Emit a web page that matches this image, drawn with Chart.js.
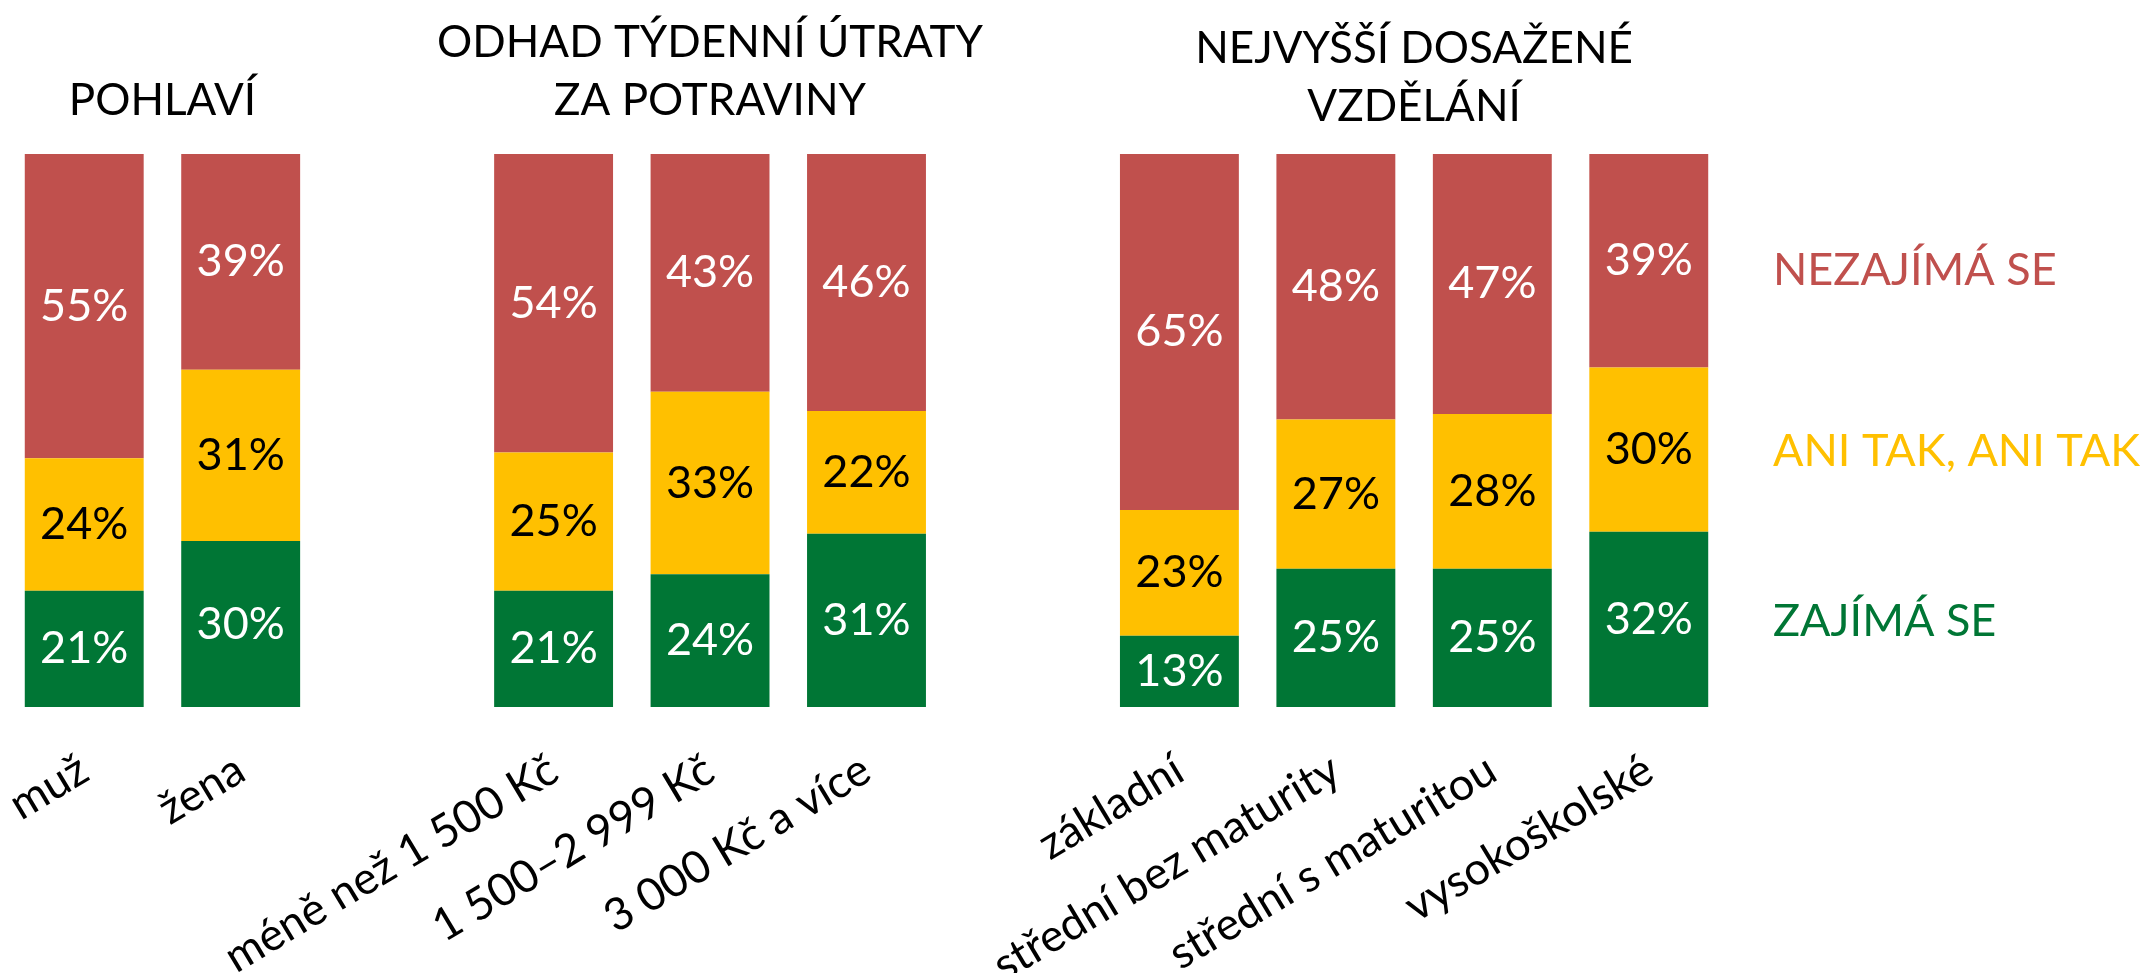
<!DOCTYPE html>
<html>
<head>
<meta charset="utf-8">
<script src="https://cdn.jsdelivr.net/npm/chart.js@4"></script>
<style>
  html, body { margin: 0; padding: 0; background: #fff; }
</style>
</head>
<body>
<canvas id="chart" width="2143" height="973"></canvas>
<script>
// kategorie (prázdné položky = mezery mezi skupinami)
const categories = ['muž', 'žena', '', 'méně než 1 500 Kč', '1 500–2 999 Kč', '3 000 Kč a více', '', 'základní', 'střední bez maturity', 'střední s maturitou', 'vysokoškolské'];
const zajimaSe   = [21, 30, null, 21, 24, 31, null, 13, 25, 25, 32];
const aniTak     = [24, 31, null, 25, 33, 22, null, 23, 27, 28, 30];
const nezajimaSe = [55, 39, null, 54, 43, 46, null, 65, 48, 47, 39];

const seriesNames  = ['ZAJÍMÁ SE', 'ANI TAK, ANI TAK', 'NEZAJÍMÁ SE'];
const seriesColors = ['#007635', '#FFC000', '#C0504D'];
const labelColors  = ['#FFFFFF', '#000000', '#FFFFFF'];

const groupTitles = [
    { lines: ['POHLAVÍ'], from: 0, to: 1 },
    { lines: ['ODHAD TÝDENNÍ ÚTRATY', 'ZA POTRAVINY'], from: 3, to: 5 },
    { lines: ['NEJVYŠŠÍ DOSAŽENÉ', 'VZDĚLÁNÍ'], from: 7, to: 10 }
];

const FONT_FAMILY = 'Lato';
const FONT_SIZE = 45;

// 100% skládaný graf – podíl z celkového součtu sloupce
const raw = [zajimaSe, aniTak, nezajimaSe];
const totals = categories.map((c, i) => raw.reduce((s, arr) => s + (arr[i] || 0), 0));
const share = arr => arr.map((v, i) => v == null ? null : v / totals[i] * 100);

const overlayPlugin = {
    id: 'overlay',
    afterDatasetsDraw(chart) {
        const ctx = chart.ctx;
        const area = chart.chartArea;
        ctx.save();
        ctx.font = FONT_SIZE + 'px ' + FONT_FAMILY;
        ctx.textAlign = 'center';
        ctx.textBaseline = 'middle';

        // popisky hodnot
        raw.forEach((arr, di) => {
            chart.getDatasetMeta(di).data.forEach((bar, i) => {
                if (arr[i] == null) return;
                ctx.fillStyle = labelColors[di];
                ctx.fillText(arr[i] + '%', bar.x, (bar.y + bar.base) / 2);
            });
        });

        // nadpisy skupin
        const xs = chart.scales.x;
        ctx.font = '44px ' + FONT_FAMILY;
        ctx.fillStyle = '#000';
        groupTitles.forEach((g, gi) => {
            const cx = (xs.getPixelForValue(g.from) + xs.getPixelForValue(g.to)) / 2;
            const n = g.lines.length;
            const shift = gi === 2 ? 6 : 0;
            g.lines.forEach((line, k) => {
                ctx.fillText(line, cx, area.top - 53 + shift - (n - 1 - k) * 58);
            });
        });

        // legenda vpravo u posledního sloupce
        ctx.font = FONT_SIZE + 'px ' + FONT_FAMILY;
        const last = categories.length - 1;
        ctx.textAlign = 'left';
        raw.forEach((arr, di) => {
            const bar = chart.getDatasetMeta(di).data[last];
            ctx.fillStyle = seriesColors[di];
            ctx.fillText(seriesNames[di], area.right + 46, (bar.y + bar.base) / 2 + (di === 2 ? 10 : 2));
        });
        ctx.restore();
    }
};

Chart.defaults.font.family = FONT_FAMILY;

new Chart(document.getElementById('chart'), {
    type: 'bar',
    data: {
        labels: categories,
        datasets: raw.map((arr, di) => ({
            label: seriesNames[di],
            data: share(arr),
            backgroundColor: seriesColors[di],
            borderWidth: 0,
            categoryPercentage: 1,
            barPercentage: 0.76
        }))
    },
    options: {
        responsive: false,
        animation: false,
        devicePixelRatio: 1,
        layout: { padding: { top: 154, left: 6, right: 416, bottom: 0 } },
        plugins: { legend: { display: false }, tooltip: { enabled: false } },
        scales: {
            x: {
                stacked: true,
                grid: { display: false, drawTicks: false },
                border: { display: false },
                ticks: {
                    color: '#000',
                    font: { size: FONT_SIZE },
                    minRotation: 31,
                    maxRotation: 31,
                    autoSkip: false,
                    padding: 36
                },
                afterFit: scale => {
                    scale.height = 266;
                    scale.paddingLeft = 0;
                    scale.paddingRight = 0;
                }
            },
            y: { stacked: true, display: false, min: 0, max: 100 }
        }
    },
    plugins: [overlayPlugin]
});
</script>
</body>
</html>
